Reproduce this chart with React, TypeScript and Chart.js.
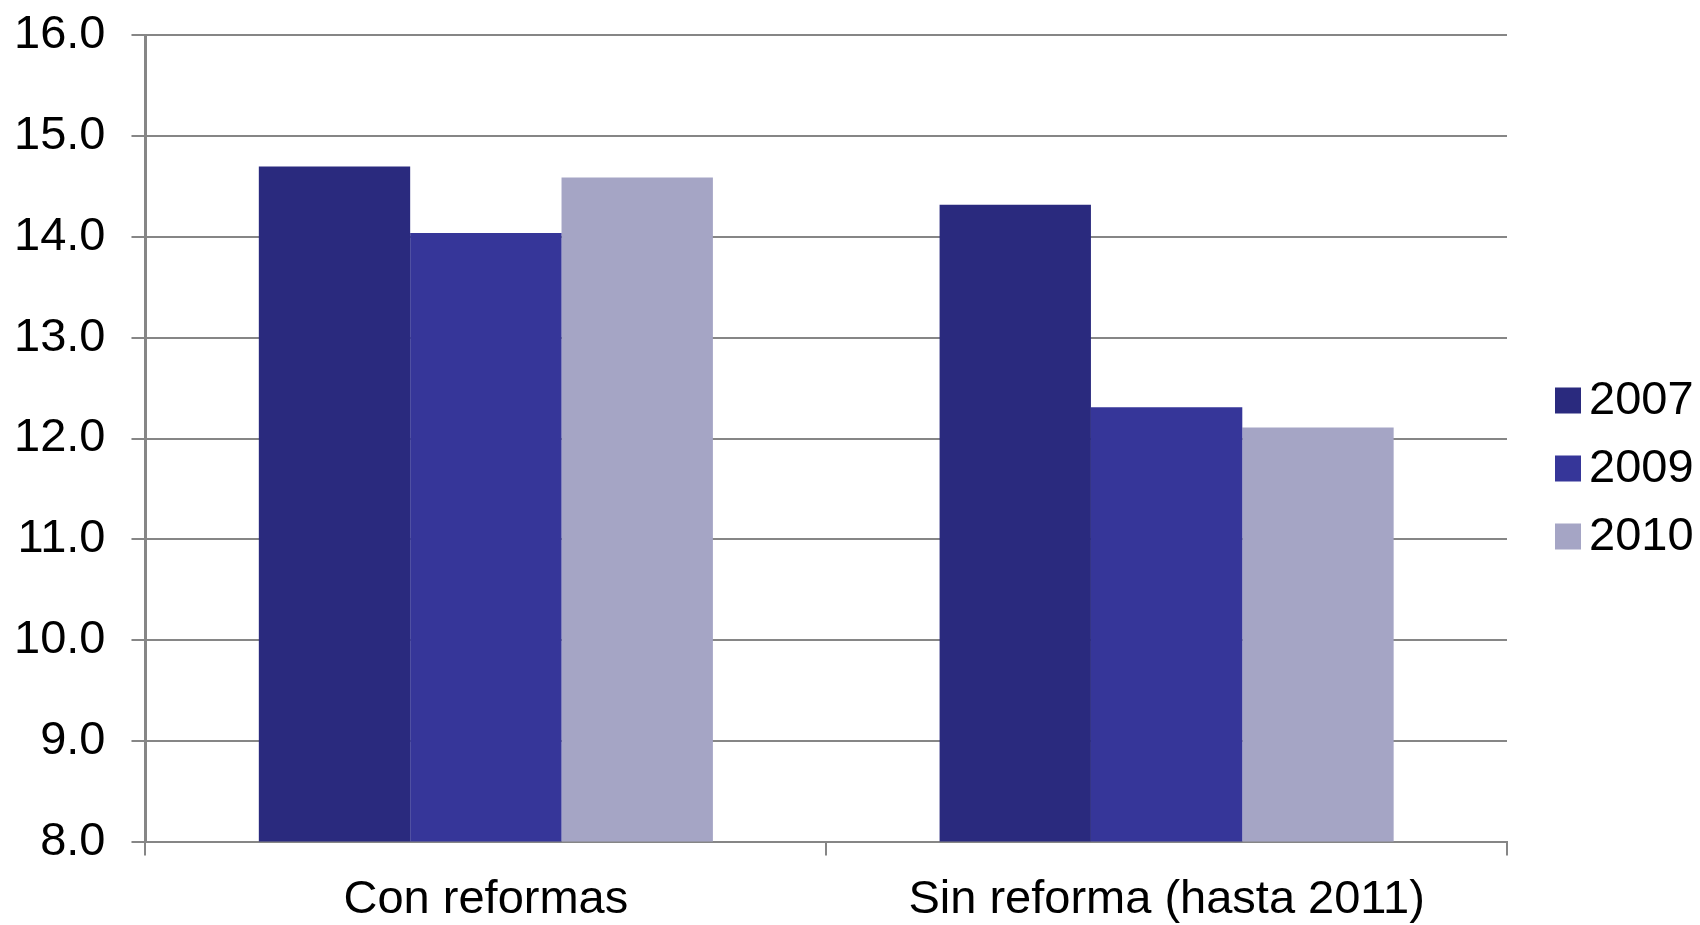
import React, { useEffect, useRef } from "react";
import { Chart, registerables } from "chart.js";

Chart.register(...registerables);

const categories = ["Con reformas", "Sin reforma (hasta 2011)"];
const seriesLabels = ["2007", "2009", "2010"];
const values2007 = [14.7, 14.32];
const values2009 = [14.04, 12.31];
const values2010 = [14.59, 12.11];
const seriesColors = ["#2A2A7E", "#363699", "#A5A5C5"];
const yMin = 8;
const yMax = 16;
const yStep = 1;

const FONT = '"Liberation Sans", Arial, sans-serif';

const sideLegend = {
  id: "sideLegend",
  afterDraw(chart: any) {
    const ctx = chart.ctx;
    const ds = chart.data.datasets;
    const x = chart.chartArea.right + 48;
    const step = 68;
    const cy = chart.height / 2 + 6;
    ctx.save();
    ctx.font = `47px ${FONT}`;
    ctx.textBaseline = "middle";
    ctx.textAlign = "left";
    ds.forEach((d: any, i: number) => {
      const y = cy + (i - (ds.length - 1) / 2) * step;
      ctx.fillStyle = d.backgroundColor;
      ctx.fillRect(x, y - 13, 26, 26);
      ctx.fillStyle = "#000";
      ctx.fillText(d.label, x + 34, y + 1);
    });
    ctx.restore();
  },
};

export default function App() {
  const ref = useRef<HTMLCanvasElement>(null);
  useEffect(() => {
    document.body.style.margin = "0";
    document.body.style.overflow = "hidden";
    const seriesValues = [values2007, values2009, values2010];
    const chart = new Chart(ref.current!, {
      type: "bar",
      data: {
        labels: categories,
        datasets: seriesLabels.map((label, i) => ({
          label,
          data: seriesValues[i],
          backgroundColor: seriesColors[i],
          borderWidth: 0,
          barPercentage: 1,
          categoryPercentage: 0.667,
        })),
      },
      options: {
        animation: false,
        responsive: false,
        layout: { padding: { left: -12, top: 0, right: 193, bottom: -19 } },
        plugins: {
          legend: { display: false },
          tooltip: { enabled: false },
        },
        scales: {
          x: {
            offset: true,
            grid: {
              offset: true,
              drawOnChartArea: false,
              drawTicks: true,
              tickLength: 14,
              color: "#868686",
              lineWidth: 2,
            },
            border: { display: true, color: "#868686", width: 2 },
            ticks: {
              color: "#000",
              padding: 16,
              font: { family: FONT, size: 47 },
            },
          },
          y: {
            min: yMin,
            max: yMax,
            grid: {
              color: "#868686",
              lineWidth: 2,
              tickLength: 14,
            },
            border: { display: true, color: "#868686", width: 3 },
            ticks: {
              stepSize: yStep,
              color: "#000",
              padding: 26,
              font: { family: FONT, size: 47, lineHeight: 0.4 },
              callback: (v: any) => Number(v).toFixed(1),
            },
          },
        },
      },
      plugins: [sideLegend],
    });
    return () => chart.destroy();
  }, []);
  return <canvas ref={ref} width={1700} height={925} style={{ display: "block" }} />;
}
